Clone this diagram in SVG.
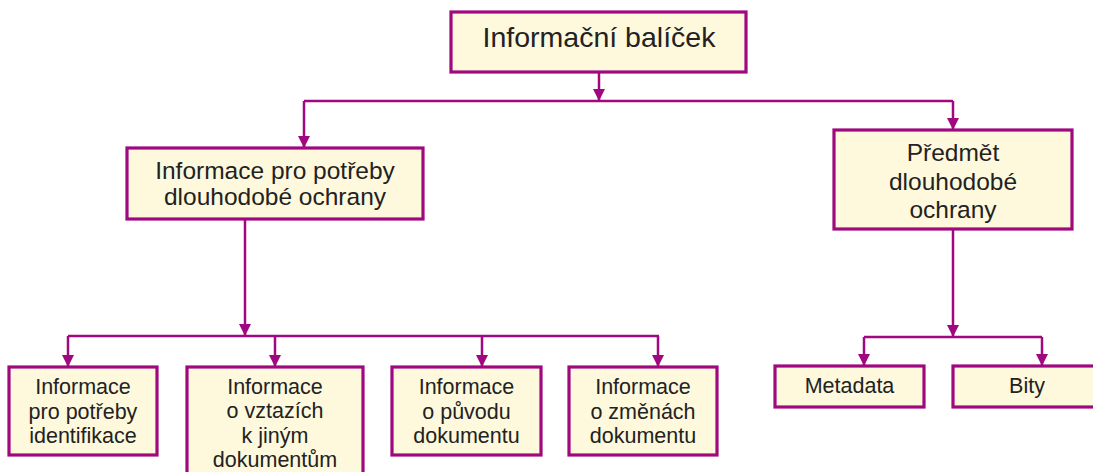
<svg xmlns="http://www.w3.org/2000/svg" width="1093" height="472" viewBox="0 0 1093 472">
<defs>
<marker id="arr" viewBox="0 0 12 12" refX="12" refY="6" markerWidth="12" markerHeight="12" markerUnits="userSpaceOnUse" orient="auto">
<path d="M0,0 L12,6 L0,12 z" fill="#a0087f"/>
</marker>
</defs>
<style>
.box{fill:#fef9dc;stroke:#a0087f;stroke-width:3.2}
.c{fill:none;stroke:#a0087f;stroke-width:2.5}
.a{marker-end:url(#arr)}
text{font-family:"Liberation Sans",Arial,sans-serif;fill:#222;text-anchor:middle}
.t1{font-size:28.5px}
.t2{font-size:24.5px}
.t3{font-size:21.5px}
</style>
<rect width="1093" height="472" fill="#ffffff"/>
<g id="connectors">
<path class="c a" d="M599 72 V101"/>
<path class="c" d="M304 101 H953"/>
<path class="c a" d="M304 101 V148"/>
<path class="c a" d="M953 101 V130"/>
<path class="c a" d="M245 219 V336"/>
<path class="c" d="M68 336 H659"/>
<path class="c a" d="M68 336 V367"/>
<path class="c a" d="M275 336 V367"/>
<path class="c a" d="M482 336 V367"/>
<path class="c a" d="M658 336 V367"/>
<path class="c a" d="M953 229 V337"/>
<path class="c" d="M864 337 H1042"/>
<path class="c a" d="M864 337 V366"/>
<path class="c a" d="M1042 337 V366"/>
</g>
<g id="n-balicek">
<rect class="box" x="451" y="12" width="295" height="60"/>
<text class="t1" x="599" y="47">Informační balíček</text>
</g>
<g id="n-informace">
<rect class="box" x="127" y="148" width="296" height="71"/>
<text class="t2" x="275" y="179">Informace pro potřeby</text>
<text class="t2" x="275" y="205">dlouhodobé ochrany</text>
</g>
<g id="n-predmet">
<rect class="box" x="834" y="130" width="238" height="99"/>
<text class="t2" x="953" y="161">Předmět</text>
<text class="t2" x="953" y="190">dlouhodobé</text>
<text class="t2" x="953" y="218">ochrany</text>
</g>
<g id="n-identifikace">
<rect class="box" x="9" y="367" width="148" height="88"/>
<text class="t3" x="83" y="394">Informace</text>
<text class="t3" x="83" y="419">pro potřeby</text>
<text class="t3" x="83" y="443">identifikace</text>
</g>
<g id="n-vztahy">
<rect class="box" x="187" y="367" width="176" height="112"/>
<text class="t3" x="275" y="394">Informace</text>
<text class="t3" x="275" y="418">o vztazích</text>
<text class="t3" x="275" y="443">k jiným</text>
<text class="t3" x="275" y="467">dokumentům</text>
</g>
<g id="n-puvod">
<rect class="box" x="392" y="367" width="149" height="88"/>
<text class="t3" x="466.5" y="394">Informace</text>
<text class="t3" x="466.5" y="419">o původu</text>
<text class="t3" x="466.5" y="443">dokumentu</text>
</g>
<g id="n-zmeny">
<rect class="box" x="569" y="367" width="148" height="88"/>
<text class="t3" x="643" y="394">Informace</text>
<text class="t3" x="643" y="419">o změnách</text>
<text class="t3" x="643" y="443">dokumentu</text>
</g>
<g id="n-metadata">
<rect class="box" x="775" y="366" width="149" height="41"/>
<text class="t3" x="849.5" y="393">Metadata</text>
</g>
<g id="n-bity">
<rect class="box" x="953" y="366" width="148" height="41"/>
<text class="t3" x="1027" y="393">Bity</text>
</g>
</svg>
